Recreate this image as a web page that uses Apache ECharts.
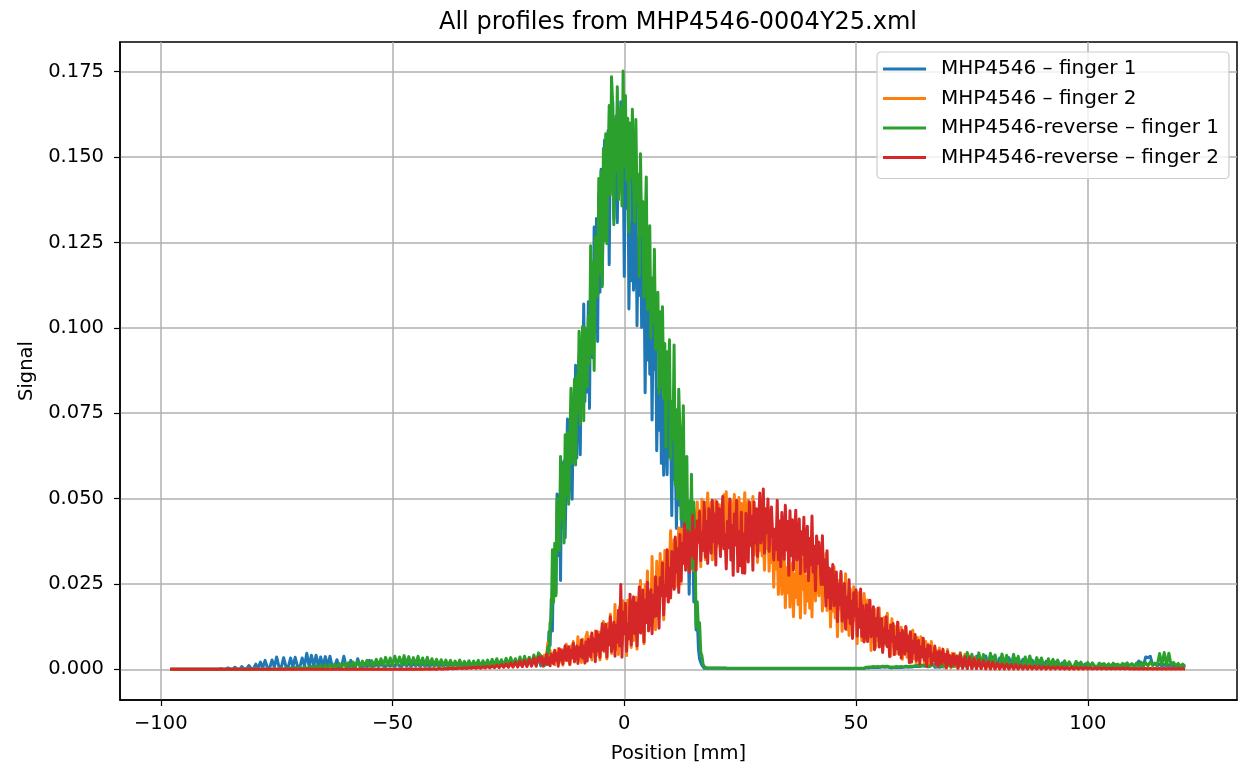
<!DOCTYPE html>
<html>
<head>
<meta charset="utf-8">
<title>All profiles from MHP4546-0004Y25.xml</title>
<script src="https://cdn.jsdelivr.net/npm/echarts@6/dist/echarts.min.js"></script>
<style>
  html, body { margin: 0; padding: 0; background: #fff; }
  #chart { width: 1240px; height: 769px; }
</style>
</head>
<body>
<div id="chart"></div>
<script>
// sample grid in mm: [first position, step, count] - finer step in the middle
const sampleSegments = [
  [-98, 0.5, 160],
  [-18, 0.25, 360],
  [72, 0.5, 99]
];

const seriesNames = [
  'MHP4546 – finger 1',
  'MHP4546 – finger 2',
  'MHP4546-reverse – finger 1',
  'MHP4546-reverse – finger 2'
];
const seriesColors = ['#1f77b4', '#ff7f0e', '#2ca02c', '#d62728'];

const xTicks = [-100, -50, 0, 50, 100];
const yTicks = [0, 0.025, 0.05, 0.075, 0.1, 0.125, 0.15, 0.175];

const finger1Signal = [
  // -98 .. -18.5 (0.5 mm)
  0,0,0,0,0,0,0,0,0,0,0,0,0,0,0,0,0,0,0,0,
  0,0,0.0002,0,0,0.0004,0.0001,0,0.0006,0.0001,0,0.0008,0.0001,0.0001,0.0011,0.0002,0.0001,0.0015,0.0003,0.0021,
  0.0004,0.0026,0.0005,0.0004,0.0027,0.0006,0.0036,0.0007,0.0005,0.0034,0.0008,0.0006,0.0033,0.0007,0.0035,0.0008,0.0006,0.0033,0.0009,0.0047,
  0.0008,0.0041,0.0009,0.0041,0.0008,0.0036,0.0007,0.0037,0.0008,0.0038,0.0007,0.0009,0.0028,0.0006,0.0008,0.0038,0.0007,0.0006,0.0026,0.0007,
  0.0006,0.0031,0.0007,0.0006,0.0012,0.0007,0.0026,0.0008,0.0009,0.0014,0.0008,0.0016,0.0009,0.0008,0.0017,0.0009,0.0015,0.0008,0.0018,0.0009,
  0.0008,0.0019,0.0009,0.0017,0.0008,0.0016,0.001,0.0015,0.0008,0.0017,0.0009,0.0014,0.0008,0.0016,0.0009,0.0015,0.0008,0.0014,0.0009,0.0016,
  0.0008,0.0015,0.0009,0.0017,0.0008,0.0014,0.001,0.0016,0.0008,0.0015,0.0009,0.0018,0.0008,0.0016,0.001,0.0019,0.0009,0.0017,0.0011,0.002,
  0.001,0.0021,0.0011,0.0019,0.0012,0.0024,0.0011,0.0022,0.0013,0.0026,0.0012,0.0028,0.0014,0.0025,0.0013,0.003,0.0015,0.0032,0.0014,0.0034,
  // -18 .. 71.75 (0.25 mm)
  0.001,0.003,0.002,0.0033,0.0013,0.0024,0.003,0.011,0.007,0.0206,0.0112,0.0341,0.0285,0.0224,0.0513,0.0333,0.051,0.026,0.0604,0.0415,
  0.061,0.0385,0.058,0.0733,0.0498,0.0588,0.0756,0.0498,0.0745,0.0646,0.089,0.0619,0.08,0.092,0.0628,0.09,0.078,0.107,0.0784,0.0996,
  0.0812,0.1076,0.0764,0.1148,0.1065,0.0912,0.1295,0.0989,0.132,0.096,0.1392,0.1104,0.1464,0.1128,0.1368,0.155,0.1283,0.1381,0.1577,0.1185,
  0.1565,0.1408,0.1664,0.1318,0.152,0.162,0.1308,0.156,0.1428,0.1662,0.1392,0.1554,0.115,0.155,0.135,0.16,0.1055,0.1303,0.1138,0.155,
  0.111,0.1214,0.1422,0.1006,0.1259,0.1095,0.1362,0.1001,0.1075,0.12,0.081,0.1125,0.0906,0.1179,0.0864,0.1053,0.073,0.1026,0.0878,0.1063,
  0.064,0.082,0.07,0.1,0.0603,0.0795,0.0568,0.0848,0.0675,0.057,0.0833,0.0623,0.0713,0.045,0.0765,0.0555,0.0636,0.0412,0.0572,0.0694,
  0.0479,0.0546,0.0335,0.0506,0.0352,0.0508,0.0328,0.0436,0.022,0.0404,0.0312,0.0427,0.0197,0.0274,0.0115,0.015,0.006,0.003,0.002,0.0012,
  0.0008,0.0003,0.0002,0.0003,0.0002,0.0003,0.0002,0.0003,0.0002,0.0003,0.0002,0.0003,0.0002,0.0003,0.0002,0.0003,0.0002,0.0003,0.0002,0.0003,
  0.0003,0.0002,0.0003,0.0002,0.0003,0.0002,0.0003,0.0002,0.0003,0.0002,0.0003,0.0002,0.0003,0.0002,0.0003,0.0002,0.0003,0.0002,0.0003,0.0002,
  0.0003,0.0002,0.0003,0.0002,0.0003,0.0002,0.0003,0.0002,0.0003,0.0002,0.0003,0.0002,0.0003,0.0002,0.0003,0.0002,0.0003,0.0002,0.0003,0.0002,
  0.0003,0.0002,0.0003,0.0002,0.0003,0.0002,0.0003,0.0002,0.0003,0.0002,0.0003,0.0002,0.0003,0.0002,0.0003,0.0002,0.0003,0.0002,0.0003,0.0002,
  0.0003,0.0002,0.0003,0.0002,0.0003,0.0002,0.0003,0.0002,0.0003,0.0002,0.0003,0.0002,0.0003,0.0002,0.0003,0.0002,0.0003,0.0002,0.0003,0.0002,
  0.0003,0.0002,0.0003,0.0002,0.0003,0.0002,0.0003,0.0002,0.0003,0.0002,0.0003,0.0002,0.0003,0.0002,0.0003,0.0002,0.0003,0.0002,0.0003,0.0002,
  0.0003,0.0002,0.0003,0.0002,0.0003,0.0002,0.0003,0.0002,0.0003,0.0002,0.0003,0.0002,0.0003,0.0002,0.0003,0.0002,0.0003,0.0002,0.0003,0.0002,
  0.0003,0.0005,0.0003,0.0004,0.0004,0.0006,0.0003,0.0005,0.0004,0.0006,0.0004,0.0005,0.0003,0.0006,0.0004,0.0007,0.0004,0.0006,0.0005,0.0007,
  0.0003,0.0005,0.0003,0.0004,0.0004,0.0006,0.0003,0.0005,0.0004,0.0006,0.0004,0.0005,0.0003,0.0006,0.0004,0.0007,0.0004,0.0006,0.0005,0.0007,
  0.0004,0.0007,0.0005,0.0008,0.0004,0.0009,0.0005,0.0008,0.0005,0.001,0.0006,0.0009,0.0005,0.0011,0.0006,0.001,0.0007,0.0012,0.0008,0.0014,
  0.0006,0.0009,0.0007,0.001,0.0006,0.0011,0.0007,0.0012,0.0008,0.0011,0.0007,0.0013,0.0008,0.0012,0.0009,0.0014,0.0008,0.0013,0.0009,0.0012,
  // 72 .. 121 (0.5 mm)
  0.0009,0.0011,0.0032,0.001,0.0011,0.0035,0.0011,0.001,0.0038,0.0011,0.001,0.0012,0.0039,0.0011,0.001,0.0036,0.0011,0.001,0.0033,0.0011,
  0.001,0.0011,0.0034,0.001,0.0011,0.0031,0.001,0.0009,0.0029,0.001,0.0009,0.001,0.0027,0.0009,0.001,0.0025,0.0009,0.0009,0.0023,0.0009,
  0.0008,0.0009,0.0021,0.0008,0.0009,0.0019,0.0008,0.0008,0.0018,0.0008,0.0008,0.0009,0.0017,0.0008,0.0008,0.0016,0.0008,0.0008,0.0015,0.0008,
  0.0008,0.0008,0.0015,0.0008,0.0008,0.0014,0.0008,0.0008,0.0014,0.0008,0.0008,0.0009,0.0015,0.0008,0.0009,0.0016,0.0009,0.0012,0.0024,0.0012,
  0.0008,0.0036,0.0034,0.0038,0.0012,0.0016,0.001,0.0015,0.0009,0.0014,0.0009,0.0013,0.0008,0.0012,0.0008,0.0011,0.0007,0.001,0.0006
];

const finger2Signal = [
  // -98 .. -18.5
  0,0,0,0,0,0,0,0,0,0,0,0,0,0,0,0,0,0,0,0,
  0,0,0,0,0,0,0,0,0,0,0,0,0,0,0,0,0,0,0,0,
  0,0,0,0,0,0,0,0,0,0,0,0,0,0,0,0,0,0,0,0,
  0,0,0,0,0,0,0,0,0,0,0,0,0,0,0,0,0,0,0,0,
  0,0,0,0,0,0,0,0,0,0,0,0,0,0,0,0,0,0,0,0,
  0,0,0,0.0001,0,0,0.0001,0,0.0001,0,0.0001,0.0001,0,0.0001,0.0001,0,0.0002,0.0001,0.0001,0.0002,
  0.0001,0.0003,0.0002,0.0004,0.0002,0.0004,0.0002,0.0005,0.0003,0.0006,0.0003,0.0007,0.0003,0.0008,0.0004,0.0009,0.0004,0.001,0.0005,0.0012,
  0.0005,0.0014,0.0006,0.0016,0.0006,0.0018,0.0007,0.0021,0.0007,0.0024,0.0008,0.0027,0.0008,0.0031,0.0009,0.0034,0.001,0.0038,0.001,0.0043,
  // -18 .. 71.75
  0.0021,0.0036,0.0008,0.0041,0.0021,0.0042,0.0078,0.0033,0.0055,0.0021,0.003,0.0049,0.0013,0.0048,0.0029,0.006,0.002,0.0043,0.0058,0.0012,
  0.0054,0.0031,0.0073,0.0025,0.0058,0.0013,0.0068,0.0041,0.0081,0.0021,0.0055,0.0033,0.0095,0.0028,0.0071,0.002,0.0088,0.0059,0.0034,0.0096,
  0.0108,0.0043,0.0061,0.0097,0.0027,0.0091,0.0056,0.0112,0.0041,0.0083,0.0109,0.0027,0.0104,0.0063,0.014,0.0051,0.0115,0.003,0.0134,0.0082,
  0.0161,0.0046,0.0111,0.0068,0.019,0.0058,0.0144,0.0043,0.0184,0.0123,0.007,0.0201,0.0103,0.0175,0.004,0.0202,0.0102,0.0197,0.0064,0.0159,
  0.0084,0.0162,0.0211,0.0059,0.0198,0.0127,0.026,0.0106,0.0215,0.0075,0.0247,0.0161,0.0288,0.0112,0.0211,0.0145,0.033,0.0139,0.0263,0.0116,
  0.0316,0.0238,0.017,0.0339,0.0224,0.0314,0.0145,0.0348,0.024,0.0347,0.0197,0.0304,0.0406,0.0256,0.0297,0.0379,0.024,0.037,0.03,0.0414,
  0.038,0.025,0.041,0.033,0.045,0.029,0.038,0.032,0.049,0.0312,0.0427,0.0291,0.0469,0.0395,0.0332,0.049,0.0377,0.0465,0.03,0.0498,
  0.0363,0.0468,0.0321,0.0426,0.0516,0.0363,0.0405,0.0489,0.032,0.045,0.038,0.0494,0.0359,0.0435,0.0482,0.0334,0.0457,0.0394,0.0511,0.0376,
  0.052,0.0376,0.0469,0.0359,0.0495,0.0435,0.0384,0.0512,0.041,0.0478,0.035,0.0503,0.0401,0.0486,0.0367,0.0452,0.0517,0.0393,0.0427,0.0495,
  0.0359,0.0469,0.041,0.0506,0.0334,0.0398,0.0438,0.0313,0.0404,0.0348,0.0452,0.0332,0.0394,0.029,0.0418,0.0354,0.0423,0.0287,0.0364,0.0313,
  0.0375,0.024,0.0402,0.0294,0.0352,0.0219,0.0314,0.0386,0.022,0.026,0.034,0.018,0.0297,0.0224,0.0343,0.0182,0.026,0.031,0.0154,0.028,
  0.021,0.034,0.019,0.028,0.015,0.0318,0.0234,0.0339,0.0164,0.0272,0.02,0.038,0.0179,0.0322,0.0153,0.0361,0.0275,0.02,0.0388,0.0238,
  0.0215,0.0259,0.0347,0.0171,0.0291,0.0215,0.0338,0.0172,0.0236,0.0288,0.0124,0.0257,0.017,0.03,0.015,0.024,0.0095,0.0259,0.0177,0.028,
  0.0111,0.0195,0.0139,0.028,0.0116,0.0209,0.0099,0.0235,0.0168,0.0118,0.0242,0.0143,0.0199,0.0075,0.0224,0.0125,0.0194,0.0084,0.0162,0.0222,
  0.0158,0.0105,0.0203,0.009,0.0149,0.0055,0.0171,0.0113,0.0176,0.0064,0.0127,0.0085,0.018,0.0067,0.014,0.0054,0.0151,0.0108,0.007,0.0164,
  0.0081,0.013,0.0039,0.0148,0.0068,0.0127,0.0045,0.0103,0.0138,0.0056,0.0078,0.0123,0.0029,0.01,0.0062,0.0124,0.0035,0.0076,0.0102,0.0021,
  0.0041,0.0114,0.0031,0.0085,0.0018,0.0093,0.006,0.0032,0.0095,0.0042,0.0077,0.0011,0.0082,0.0033,0.0074,0.0017,0.0052,0.0081,0.0027,0.0041,
  0.0064,0.001,0.0054,0.003,0.0062,0.0015,0.004,0.0055,0.0006,0.0041,0.0022,0.0058,0.0014,0.0038,0.0004,0.0046,0.0022,0.0046,0.0008,0.0029,
  // 72 .. 121
  0.0003,0.0049,0.0003,0.0044,0.0002,0.0039,0.0002,0.0035,0.0002,0.0031,0.0002,0.0028,0.0001,0.0025,0.0001,0.0022,0.0001,0.0019,0.0001,0.0017,
  0.0001,0.0016,0.0001,0.0015,0.0001,0.0014,0.0001,0.0013,0.0001,0.0012,0.0001,0.0011,0.0001,0.001,0.0001,0.0009,0.0001,0.0009,0.0001,0.0008,
  0.0001,0.0008,0.0001,0.0007,0.0001,0.0007,0.0001,0.0006,0.0001,0.0006,0.0001,0.0005,0.0001,0.0005,0.0001,0.0005,0.0001,0.0004,0.0001,0.0004,
  0.0001,0.0004,0.0001,0.0004,0.0001,0.0003,0.0001,0.0003,0.0001,0.0003,0.0001,0.0003,0.0001,0.0003,0.0001,0.0002,0.0001,0.0002,0.0001,0.0002,
  0.0001,0.0002,0.0001,0.0002,0.0001,0.0002,0.0001,0.0002,0.0001,0.0002,0.0001,0.0002,0.0001,0.0002,0.0001,0.0002,0.0001,0.0002,0.0001
];

const reverseFinger1Signal = [
  // -98 .. -18.5
  0,0,0,0,0,0,0,0,0,0,0,0,0,0,0,0,0,0,0,0,
  0,0,0,0,0,0,0,0,0,0,0,0,0,0,0,0,0,0,0,0,
  0,0,0,0,0,0,0,0,0.0002,0,0.0003,0.0001,0.0004,0.0001,0.0005,0.0002,0.0006,0.0002,0.0007,0.0003,
  0.0003,0.0009,0.0003,0.001,0.0004,0.0011,0.0004,0.0012,0.0005,0.0014,0.0005,0.0015,0.0006,0.0017,0.0006,0.0018,0.0007,0.0019,0.0008,0.0021,
  0.0008,0.0022,0.0009,0.0024,0.001,0.0026,0.0009,0.0025,0.0011,0.0029,0.001,0.0031,0.0012,0.0035,0.0011,0.0033,0.0012,0.0038,0.0013,0.0036,
  0.0012,0.004,0.0013,0.0037,0.0012,0.0034,0.0013,0.0038,0.0012,0.0033,0.0011,0.0035,0.0012,0.0031,0.0011,0.0029,0.001,0.0028,0.0011,0.0027,
  0.001,0.0026,0.0009,0.0024,0.001,0.0027,0.0009,0.0023,0.001,0.0025,0.0009,0.0024,0.001,0.0026,0.0009,0.0025,0.001,0.0027,0.0011,0.0029,
  0.0011,0.0031,0.0012,0.0028,0.0011,0.0032,0.0012,0.0034,0.0013,0.0031,0.0012,0.0036,0.0013,0.0038,0.0014,0.0035,0.0015,0.0042,0.0016,0.0048,
  // -18 .. 71.75
  0.0039,0.0016,0.003,0.001,0.0034,0.0022,0.0065,0.0048,0.0137,0.0145,0.035,0.0196,0.0369,0.0215,0.05,0.0415,0.0348,0.0623,0.0439,0.0598,
  0.037,0.0687,0.0509,0.0694,0.0483,0.0668,0.0823,0.0603,0.0689,0.0849,0.0598,0.0859,0.0753,0.099,0.0717,0.0889,0.1004,0.0728,0.1,0.0876,
  0.0826,0.1033,0.0895,0.124,0.0924,0.1193,0.0875,0.1267,0.123,0.1092,0.1437,0.1161,0.1458,0.112,0.1525,0.1255,0.1568,0.1246,0.1476,0.1651,
  0.139,0.1735,0.1654,0.1302,0.1611,0.1461,0.1706,0.1375,0.1554,0.1646,0.1357,0.1752,0.1472,0.168,0.1431,0.1614,0.128,0.16,0.144,0.164,
  0.143,0.131,0.161,0.137,0.145,0.115,0.151,0.127,0.137,0.109,0.129,0.1442,0.1053,0.1135,0.1299,0.097,0.1146,0.1013,0.123,0.0937,
  0.0989,0.1104,0.0808,0.1047,0.0828,0.1062,0.0792,0.0954,0.065,0.093,0.079,0.0965,0.0617,0.0784,0.0673,0.095,0.054,0.076,0.05,0.082,
  0.0704,0.0438,0.0628,0.0772,0.0395,0.0471,0.0623,0.0319,0.0492,0.0366,0.0571,0.0294,0.049,0.0394,0.0125,0.0198,0.0116,0.0136,0.005,0.004,
  0.0015,0.0008,0.0005,0.0004,0.0003,0.0004,0.0003,0.0004,0.0003,0.0004,0.0003,0.0004,0.0003,0.0004,0.0003,0.0004,0.0003,0.0004,0.0003,0.0004,
  0.0004,0.0003,0.0004,0.0003,0.0004,0.0003,0.0004,0.0003,0.0004,0.0003,0.0004,0.0003,0.0004,0.0003,0.0004,0.0003,0.0004,0.0003,0.0004,0.0003,
  0.0004,0.0003,0.0004,0.0003,0.0004,0.0003,0.0004,0.0003,0.0004,0.0003,0.0004,0.0003,0.0004,0.0003,0.0004,0.0003,0.0004,0.0003,0.0004,0.0003,
  0.0004,0.0003,0.0004,0.0003,0.0004,0.0003,0.0004,0.0003,0.0004,0.0003,0.0004,0.0003,0.0004,0.0003,0.0004,0.0003,0.0004,0.0003,0.0004,0.0003,
  0.0004,0.0003,0.0004,0.0003,0.0004,0.0003,0.0004,0.0003,0.0004,0.0003,0.0004,0.0003,0.0004,0.0003,0.0004,0.0003,0.0004,0.0003,0.0004,0.0003,
  0.0004,0.0003,0.0004,0.0003,0.0004,0.0003,0.0004,0.0003,0.0004,0.0003,0.0004,0.0003,0.0004,0.0003,0.0004,0.0003,0.0004,0.0003,0.0004,0.0003,
  0.0004,0.0003,0.0004,0.0003,0.0004,0.0003,0.0004,0.0003,0.0004,0.0003,0.0004,0.0003,0.0004,0.0003,0.0004,0.0003,0.0004,0.0003,0.0004,0.0003,
  0.0004,0.0006,0.0004,0.0007,0.0005,0.0006,0.0004,0.0008,0.0005,0.0007,0.0005,0.0008,0.0004,0.0007,0.0005,0.0009,0.0005,0.0008,0.0006,0.0009,
  0.0004,0.0006,0.0004,0.0007,0.0005,0.0006,0.0004,0.0008,0.0005,0.0007,0.0005,0.0008,0.0004,0.0007,0.0005,0.0009,0.0005,0.0008,0.0006,0.0009,
  0.0005,0.0009,0.0006,0.001,0.0005,0.0011,0.0006,0.0009,0.0006,0.0012,0.0007,0.0011,0.0006,0.0013,0.0007,0.0012,0.0008,0.0014,0.0009,0.0013,
  0.0008,0.0012,0.0009,0.0014,0.0008,0.0015,0.0009,0.0013,0.001,0.0016,0.0009,0.0014,0.001,0.0017,0.0011,0.0015,0.001,0.0021,0.0012,0.0038,
  // 72 .. 121
  0.0012,0.0046,0.0013,0.0012,0.0049,0.0014,0.0044,0.0013,0.0012,0.0048,0.0014,0.0043,0.0013,0.0012,0.0047,0.0014,0.0042,0.0013,0.0012,0.0045,
  0.0013,0.0041,0.0012,0.0011,0.0044,0.0012,0.0038,0.0011,0.001,0.0036,0.0011,0.0039,0.001,0.0011,0.0034,0.001,0.0033,0.0011,0.001,0.0031,
  0.001,0.0029,0.0009,0.0027,0.001,0.0009,0.0025,0.0009,0.0022,0.0008,0.0009,0.0023,0.0008,0.0021,0.0009,0.0008,0.002,0.0008,0.0019,0.0009,
  0.0008,0.0018,0.0008,0.0017,0.0009,0.0016,0.0008,0.0018,0.0008,0.0015,0.0009,0.0017,0.0008,0.0019,0.0009,0.0016,0.0008,0.0018,0.0009,0.0021,
  0.0009,0.0019,0.001,0.0022,0.0011,0.0018,0.0012,0.0046,0.0013,0.0049,0.0012,0.0047,0.0011,0.002,0.001,0.0017,0.0009,0.0015,0.0008
];

const reverseFinger2Signal = [
  // -98 .. -18.5
  0,0,0,0,0,0,0,0,0,0,0,0,0,0,0,0,0,0,0,0,
  0,0,0,0,0,0,0,0,0,0,0,0,0,0,0,0,0,0,0,0,
  0,0,0,0,0,0,0,0,0,0,0,0,0,0,0,0,0,0,0,0,
  0,0,0,0,0,0,0,0,0,0,0,0,0,0,0,0,0,0,0,0,
  0,0,0,0,0,0,0,0,0,0,0,0,0,0,0,0,0,0,0,0,
  0,0,0,0.0001,0,0,0.0001,0,0.0001,0,0.0001,0.0001,0,0.0001,0.0001,0,0.0002,0.0001,0.0001,0.0002,
  0.0001,0.0003,0.0001,0.0003,0.0002,0.0004,0.0002,0.0005,0.0002,0.0005,0.0003,0.0006,0.0003,0.0007,0.0003,0.0008,0.0004,0.0009,0.0004,0.001,
  0.0005,0.0012,0.0005,0.0014,0.0006,0.0016,0.0006,0.0018,0.0007,0.0021,0.0007,0.0023,0.0008,0.0026,0.0008,0.0029,0.0009,0.0032,0.0009,0.0036,
  // -18 .. 71.75
  0.0021,0.0037,0.0011,0.0026,0.0017,0.0045,0.0014,0.0034,0.001,0.0044,0.0029,0.0016,0.0056,0.0026,0.0046,0.0009,0.006,0.0027,0.0054,0.0016,
  0.0046,0.0069,0.0026,0.0038,0.0066,0.0015,0.0056,0.0034,0.0076,0.0023,0.0051,0.0068,0.0017,0.0064,0.0038,0.0086,0.0033,0.0068,0.0018,0.008,
  0.0024,0.0088,0.006,0.0036,0.0106,0.0053,0.0088,0.0022,0.0111,0.0054,0.0101,0.0035,0.0092,0.0133,0.0055,0.0076,0.0132,0.0036,0.0114,0.0072,
  0.0154,0.0052,0.0105,0.0138,0.0038,0.0129,0.0079,0.0173,0.0068,0.0248,0.0035,0.0167,0.0105,0.0193,0.0053,0.0131,0.0089,0.022,0.0071,0.0168,
  0.0212,0.0104,0.0194,0.0068,0.0171,0.0241,0.0106,0.0143,0.0232,0.008,0.0203,0.0137,0.0255,0.0113,0.0187,0.0233,0.0104,0.0217,0.0154,0.0271,
  0.0157,0.024,0.012,0.0268,0.0216,0.0311,0.0159,0.0245,0.0215,0.035,0.0197,0.0296,0.0209,0.0345,0.0285,0.0234,0.0387,0.0285,0.0353,0.0225,
  0.0395,0.0259,0.0369,0.031,0.0426,0.0291,0.0361,0.0405,0.0284,0.0397,0.0334,0.0451,0.0326,0.0407,0.029,0.0434,0.0372,0.0462,0.0318,0.0399,
  0.0348,0.049,0.0329,0.0433,0.031,0.047,0.04,0.034,0.0495,0.0375,0.0455,0.0305,0.049,0.037,0.047,0.033,0.0426,0.0506,0.0353,0.0395,
  0.0294,0.0433,0.0356,0.0499,0.032,0.0421,0.0275,0.0455,0.0364,0.0494,0.0286,0.0403,0.0303,0.046,0.0282,0.0397,0.0281,0.0457,0.038,0.0314,
  0.049,0.0364,0.0448,0.029,0.049,0.037,0.047,0.033,0.044,0.0516,0.037,0.041,0.0528,0.034,0.047,0.04,0.0499,0.0345,0.0425,0.0475,
  0.048,0.032,0.041,0.035,0.0495,0.0321,0.0434,0.03,0.0459,0.0385,0.0322,0.048,0.0349,0.0433,0.0275,0.0464,0.0333,0.0438,0.0291,0.0396,
  0.0466,0.032,0.036,0.044,0.028,0.0403,0.0337,0.0445,0.0286,0.0368,0.0419,0.0259,0.0383,0.0306,0.0449,0.0284,0.036,0.023,0.039,0.031,
  0.0372,0.0305,0.0248,0.0391,0.0248,0.032,0.0185,0.0347,0.0211,0.0296,0.0177,0.0262,0.0307,0.0186,0.0219,0.0285,0.0139,0.0249,0.019,0.0286,
  0.0141,0.0209,0.0251,0.0118,0.0211,0.0151,0.0262,0.0134,0.0199,0.009,0.0224,0.0157,0.0233,0.0097,0.0174,0.0123,0.0235,0.0096,0.0186,0.008,
  0.0112,0.0189,0.0081,0.0158,0.0202,0.0095,0.0124,0.0183,0.0057,0.0148,0.0099,0.0179,0.0065,0.0117,0.0149,0.0049,0.0119,0.0077,0.0154,0.0066,
  0.0112,0.0037,0.0129,0.0083,0.0134,0.0043,0.0094,0.006,0.0138,0.0044,0.0105,0.0033,0.0114,0.0076,0.0044,0.0125,0.0054,0.0095,0.0019,0.011,
  0.0021,0.0082,0.0049,0.0102,0.0026,0.0062,0.0084,0.0015,0.0065,0.0036,0.0091,0.0027,0.0058,0.0008,0.007,0.0039,0.0068,0.0014,0.0044,0.0024,
  0.0068,0.0015,0.0049,0.0009,0.0053,0.0034,0.0016,0.0059,0.0022,0.0043,0.0004,0.0051,0.0017,0.004,0.0008,0.0031,0.0044,0.0014,0.0022,0.0039,
  // 72 .. 121
  0.0003,0.0042,0.0003,0.0037,0.0002,0.0034,0.0002,0.0031,0.0002,0.0028,0.0002,0.0025,0.0001,0.0023,0.0001,0.0021,0.0001,0.0018,0.0001,0.0016,
  0.0001,0.0015,0.0001,0.0014,0.0001,0.0013,0.0001,0.0012,0.0001,0.0011,0.0001,0.001,0.0001,0.0009,0.0001,0.0009,0.0001,0.0008,0.0001,0.0008,
  0.0001,0.0007,0.0001,0.0007,0.0001,0.0006,0.0001,0.0006,0.0001,0.0006,0.0001,0.0005,0.0001,0.0005,0.0001,0.0005,0.0001,0.0004,0.0001,0.0004,
  0.0001,0.0004,0.0001,0.0004,0.0001,0.0003,0.0001,0.0003,0.0001,0.0003,0.0001,0.0003,0.0001,0.0003,0.0001,0.0002,0.0001,0.0002,0.0001,0.0002,
  0.0001,0.0002,0.0001,0.0002,0.0001,0.0002,0.0001,0.0002,0.0001,0.0002,0.0001,0.0002,0.0001,0.0002,0.0001,0.0002,0.0001,0.0002,0.0001
];

const allSignals = [finger1Signal, finger2Signal, reverseFinger1Signal, reverseFinger2Signal];

const positionsMm = [];
sampleSegments.forEach(([x0, dx, n]) => {
  for (let i = 0; i < n; i++) positionsMm.push(x0 + i * dx);
});
allSignals.forEach((s, k) => {
  if (s.length !== positionsMm.length) console.error(seriesNames[k], s.length, '!=', positionsMm.length);
});

const FONT = '"DejaVu Sans", sans-serif';
const minusSign = v => (v < 0 ? '\u2212' + Math.abs(v) : String(v));

const chart = echarts.init(document.getElementById('chart'));

chart.setOption({
  animation: false,
  backgroundColor: '#fff',
  title: {
    text: 'All profiles from MHP4546-0004Y25.xml',
    left: 678, top: 11, padding: 0, textAlign: 'center',
    textStyle: { fontFamily: FONT, fontSize: 24, fontWeight: 'normal', color: '#000' }
  },
  grid: {
    left: 120, right: 3, top: 42, bottom: 63,
    show: true, borderColor: '#000', borderWidth: 1.5, backgroundColor: 'transparent'
  },
  legend: {
    orient: 'vertical', left: 877, top: 52,
    padding: [7, 10, 11, 6],
    itemWidth: 43, itemHeight: 3, itemGap: 9.5, icon: 'rect',
    backgroundColor: 'rgba(255,255,255,0.8)', borderColor: '#cccccc', borderWidth: 1.2, borderRadius: 4,
    textStyle: { fontFamily: FONT, fontSize: 20, color: '#000', lineHeight: 20, padding: [0, 0, 0, 10] },
    data: seriesNames
  },
  xAxis: {
    type: 'value', min: -108.8, max: 132.2,
    name: 'Position [mm]', nameLocation: 'middle', nameGap: 44,
    nameTextStyle: { fontFamily: FONT, fontSize: 19.5, color: '#000' },
    axisLine: { onZero: false, lineStyle: { color: '#000', width: 1.5 } },
    axisTick: { length: 6, customValues: xTicks, lineStyle: { color: '#000', width: 1.2 } },
    axisLabel: { customValues: xTicks, margin: 14, formatter: minusSign,
      fontFamily: FONT, fontSize: 19.5, color: '#000' },
    splitLine: { show: true, lineStyle: { color: '#b0b0b0', width: 1.5 } }
  },
  yAxis: {
    type: 'value', min: -0.009, max: 0.1837,
    name: 'Signal', nameLocation: 'middle', nameGap: 82, nameRotate: 90,
    nameTextStyle: { fontFamily: FONT, fontSize: 19.5, color: '#000' },
    axisLine: { onZero: false, lineStyle: { color: '#000', width: 1.5 } },
    axisTick: { length: 6, customValues: yTicks, lineStyle: { color: '#000', width: 1.2 } },
    axisLabel: { customValues: yTicks, margin: 16, formatter: v => v.toFixed(3),
      fontFamily: FONT, fontSize: 19.5, color: '#000' },
    splitLine: { show: true, lineStyle: { color: '#b0b0b0', width: 1.5 } }
  },
  series: seriesNames.map((name, k) => ({
    name,
    type: 'line',
    data: allSignals[k].map((y, i) => [positionsMm[i], y]),
    showSymbol: false,
    symbol: 'none',
    clip: true,
    color: seriesColors[k],
    lineStyle: { width: 3, color: seriesColors[k], join: 'round' },
    emphasis: { disabled: true }
  }))
});
</script>
</body>
</html>
